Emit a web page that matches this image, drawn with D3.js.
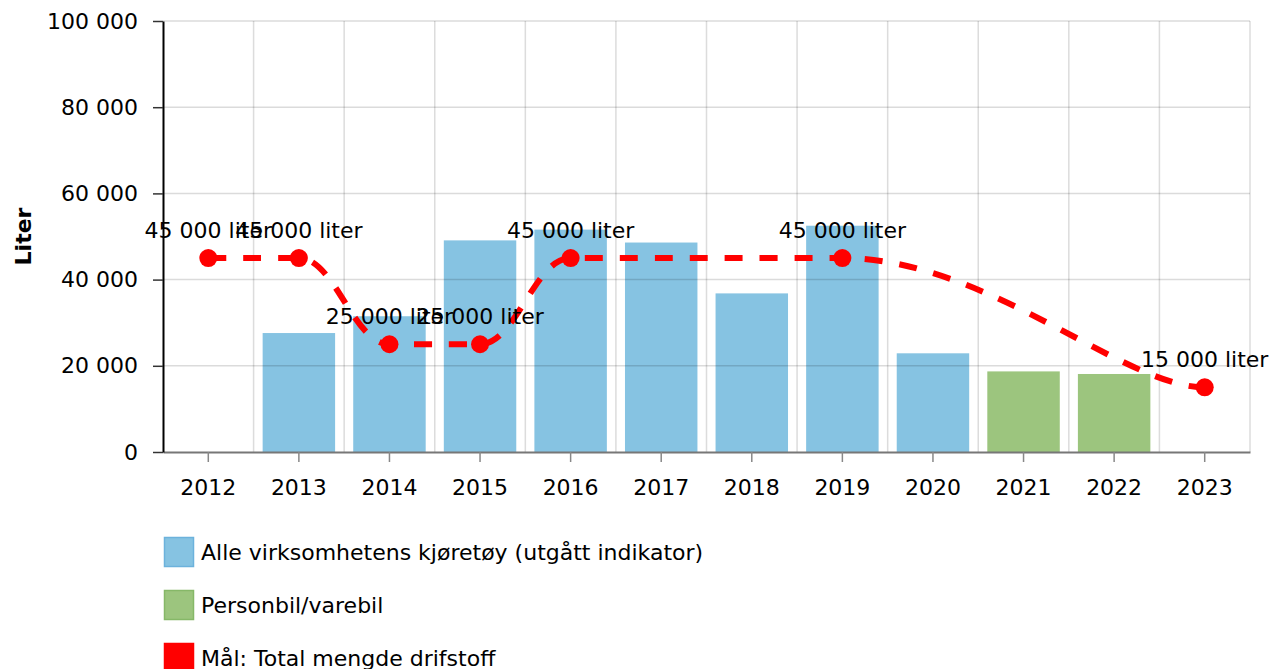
<!DOCTYPE html>
<html>
<head>
<meta charset="utf-8">
<script src="https://cdn.jsdelivr.net/npm/d3@7"></script>
<style>
  body { margin: 0; background: #fff; }
  svg text { font-family: "DejaVu Sans", Verdana, sans-serif; fill: #000; }
</style>
</head>
<body>
<script>
// data
var years = ["2012", "2013", "2014", "2015", "2016", "2017", "2018", "2019", "2020", "2021", "2022", "2023"];
var allVehicles = [null, 27600, 31500, 49100, 51600, 48600, 36800, 52500, 22900, null, null, null];
var carVan = [null, null, null, null, null, null, null, null, null, 18700, 18100, null];
var goalYears = ["2012", "2013", "2014", "2015", "2016", "2019", "2023"];
var goalValues = [45000, 45000, 25000, 25000, 45000, 45000, 15000];
var yTicks = [0, 20000, 40000, 60000, 80000, 100000];
var legendLabels = ["Alle virksomhetens kjøretøy (utgått indikator)", "Personbil/varebil", "Mål: Total mengde drifstoff"];
var legendColors = ["#86c3e2", "#9cc57e", "#ff0000"];
var legendBorders = ["#6cb2dc", "#86b868", "#ff0000"];

var width = 1271, height = 669;
var margin = {top: 21, right: 21, bottom: 217, left: 163};
var plotW = width - margin.left - margin.right,
    plotH = height - margin.top - margin.bottom;

var loc = d3.formatLocale({decimal: ",", thousands: " ", grouping: [3], currency: ["", ""]});
var fmt = loc.format(",");

var svg = d3.select("body").append("svg")
    .attr("width", width)
    .attr("height", height);

var g = svg.append("g")
    .attr("transform", "translate(" + margin.left + "," + margin.top + ")");

var x = d3.scaleBand()
    .domain(years)
    .range([0, plotW])
    .paddingInner(0.2)
    .paddingOuter(0.1);

var y = d3.scaleLinear()
    .domain([0, 100000])
    .range([plotH, 0]);

function cx(yr) { return x(yr) + x.bandwidth() / 2; }

// vertical grid at category boundaries
var step = x.step();
var bounds = years.map(function(d, i) { return i + 1; });
g.append("g").selectAll("line")
    .data(bounds)
  .enter().append("line")
    .attr("x1", function(i) { return x(years[0]) - step * 0.1 + i * step; })
    .attr("x2", function(i) { return x(years[0]) - step * 0.1 + i * step; })
    .attr("y1", 0)
    .attr("y2", plotH)
    .style("stroke", "#dcdcdc")
    .style("stroke-width", 1.5);

// bars
g.append("g").selectAll("rect.all")
    .data(years.map(function(d, i) { return {year: d, v: allVehicles[i]}; }).filter(function(d) { return d.v != null; }))
  .enter().append("rect")
    .attr("x", function(d) { return x(d.year); })
    .attr("width", x.bandwidth())
    .attr("y", function(d) { return y(d.v); })
    .attr("height", function(d) { return plotH - y(d.v); })
    .style("fill", legendColors[0]);

g.append("g").selectAll("rect.car")
    .data(years.map(function(d, i) { return {year: d, v: carVan[i]}; }).filter(function(d) { return d.v != null; }))
  .enter().append("rect")
    .attr("x", function(d) { return x(d.year); })
    .attr("width", x.bandwidth())
    .attr("y", function(d) { return y(d.v); })
    .attr("height", function(d) { return plotH - y(d.v); })
    .style("fill", legendColors[1]);

// horizontal grid (shows faintly over the bars)
g.append("g").selectAll("line")
    .data(yTicks.slice(1))
  .enter().append("line")
    .attr("x1", 0)
    .attr("x2", plotW)
    .attr("y1", function(d) { return y(d); })
    .attr("y2", function(d) { return y(d); })
    .style("stroke", "rgba(0,0,0,0.14)")
    .style("stroke-width", 1.5);

// axes
var xAxis = g.append("g")
    .attr("transform", "translate(0," + plotH + ")")
    .call(d3.axisBottom(x).tickSize(10).tickSizeOuter(0).tickPadding(17));
xAxis.select(".domain").style("stroke", "#777").style("stroke-width", 2);
xAxis.selectAll(".tick line").style("stroke", "#888").style("stroke-width", 1.5);
xAxis.selectAll("text").style("font-size", "22px").attr("fill", "#000");

var yAxis = g.append("g")
    .call(d3.axisLeft(y).tickValues(yTicks).tickFormat(fmt).tickSize(10).tickSizeOuter(0).tickPadding(15));
yAxis.select(".domain").style("stroke", "#000").style("stroke-width", 2);
yAxis.selectAll(".tick line").style("stroke", "#333").style("stroke-width", 1.5);
yAxis.selectAll("text").style("font-size", "22px").attr("fill", "#000");

svg.append("text")
    .attr("transform", "translate(31," + (margin.top + plotH / 2) + ") rotate(-90)")
    .attr("text-anchor", "middle")
    .style("font-size", "22px")
    .style("font-weight", "bold")
    .text("Liter");

// smoothed goal line
var goalPts = goalYears.map(function(d, i) { return [cx(d), y(goalValues[i])]; });

function splinePath(pts) {
  var smoothing = 1.5, denom = smoothing + 1, endHandle = 0.225;
  var n = pts.length, left = [], right = [];
  pts.forEach(function(p, i) {
    if (i === 0 || i === n - 1) return;
    var px = p[0], py = p[1],
        lx = pts[i - 1][0], ly = pts[i - 1][1],
        nx = pts[i + 1][0], ny = pts[i + 1][1];
    var lcx = (smoothing * px + lx) / denom, lcy = (smoothing * py + ly) / denom,
        rcx = (smoothing * px + nx) / denom, rcy = (smoothing * py + ny) / denom;
    var corr = ((rcy - lcy) * (rcx - px)) / (rcx - lcx) + py - rcy;
    lcy += corr; rcy += corr;
    if (lcy > ly && lcy > py) { lcy = Math.max(ly, py); rcy = 2 * py - lcy; }
    else if (lcy < ly && lcy < py) { lcy = Math.min(ly, py); rcy = 2 * py - lcy; }
    if (rcy > ny && rcy > py) { rcy = Math.max(ny, py); lcy = 2 * py - rcy; }
    else if (rcy < ny && rcy < py) { rcy = Math.min(ny, py); lcy = 2 * py - rcy; }
    left[i] = [lcx, lcy];
    right[i] = [rcx, rcy];
  });
  right[0] = [pts[0][0] + (pts[1][0] - pts[0][0]) * endHandle, pts[0][1]];
  left[n - 1] = [pts[n - 1][0] - (pts[n - 1][0] - pts[n - 2][0]) * endHandle, pts[n - 1][1]];
  var path = d3.path();
  path.moveTo(pts[0][0], pts[0][1]);
  for (var i = 1; i < n; i++) {
    path.bezierCurveTo(right[i - 1][0], right[i - 1][1], left[i][0], left[i][1], pts[i][0], pts[i][1]);
  }
  return path.toString();
}

g.append("path")
    .attr("d", splinePath(goalPts))
    .style("fill", "none")
    .style("stroke", "#ff0000")
    .style("stroke-width", 6)
    .style("stroke-dasharray", "18,17");

g.append("g").selectAll("circle")
    .data(goalPts)
  .enter().append("circle")
    .attr("cx", function(d) { return d[0]; })
    .attr("cy", function(d) { return d[1]; })
    .attr("r", 9)
    .style("fill", "#ff0000");

g.append("g").selectAll("text")
    .data(goalValues)
  .enter().append("text")
    .attr("x", function(d, i) { return cx(goalYears[i]); })
    .attr("y", function(d) { return y(d) - 20; })
    .attr("text-anchor", "middle")
    .style("font-size", "22px")
    .text(function(d) { return fmt(d) + " liter"; });

// legend
var legend = svg.append("g").selectAll("g")
    .data(legendLabels)
  .enter().append("g")
    .attr("transform", function(d, i) { return "translate(164," + (537 + i * 53) + ")"; });

legend.append("rect")
    .attr("x", 0.5)
    .attr("y", 0.5)
    .attr("width", 29)
    .attr("height", 29)
    .style("fill", function(d, i) { return legendColors[i]; })
    .style("stroke", function(d, i) { return legendBorders[i]; })
    .style("stroke-width", 1.5);

legend.append("text")
    .attr("x", 37)
    .attr("y", 15)
    .attr("dy", "0.35em")
    .style("font-size", "22px")
    .text(function(d) { return d; });
</script>
</body>
</html>
